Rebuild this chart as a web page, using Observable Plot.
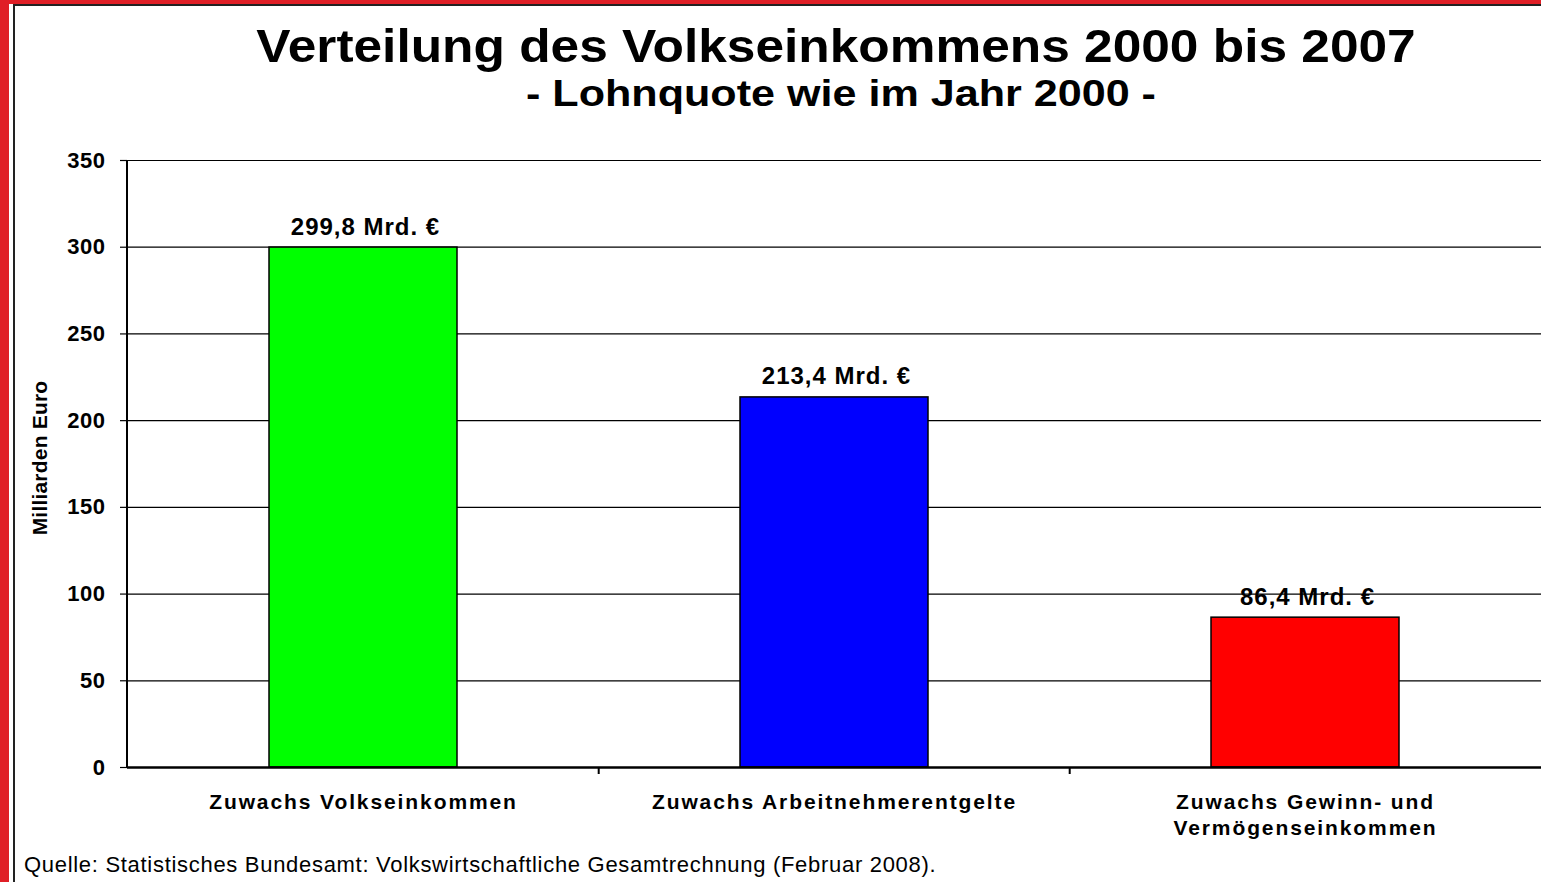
<!DOCTYPE html>
<html>
<head>
<meta charset="utf-8">
<script src="https://cdn.jsdelivr.net/npm/d3@7"></script>
<script src="https://cdn.jsdelivr.net/npm/@observablehq/plot@0.6"></script>
<style>
  html, body { margin: 0; padding: 0; background: #fff; }
  #page { position: relative; width: 1541px; height: 882px; overflow: hidden; background: #fff;
          font-family: "Liberation Sans", Arial, sans-serif; color: #000; }
  .abs { position: absolute; white-space: nowrap; }
  #redLeft { left: 0; top: 0; width: 9px; height: 882px; background: #e01f26; }
  #redTop { left: 0; top: 0; width: 1541px; height: 4px; background: #e01f26; }
  #frame { left: 13px; top: 4px; width: 1600px; height: 1000px; border-left: 2px solid #222; border-top: 2px solid #222; }
  #title { left: 836px; top: 22px; transform: translateX(-50%) scaleX(1.094); font-size: 47px; line-height: 47px; font-weight: bold; }
  #subtitle { left: 841px; top: 75px; transform: translateX(-50%) scaleX(1.165); font-size: 37px; line-height: 37px; font-weight: bold; }
  #ytitle { left: 39px; top: 458px; transform: translate(-50%, -50%) rotate(-90deg); font-size: 21px; line-height: 21px; font-weight: bold; letter-spacing: 0.2px; }
  #caption { left: 24px; top: 854px; font-size: 22px; line-height: 22px; letter-spacing: 0.7px; }
  #chart { left: 0; top: 140px; }
</style>
</head>
<body>
<div id="page">
  <div class="abs" id="redLeft"></div>
  <div class="abs" id="redTop"></div>
  <div class="abs" id="frame"></div>
  <div class="abs" id="title">Verteilung des Volkseinkommens 2000 bis 2007</div>
  <div class="abs" id="subtitle">- Lohnquote wie im Jahr 2000 -</div>
  <div class="abs" id="ytitle">Milliarden Euro</div>
  <div class="abs" id="chart"></div>
  <div class="abs" id="caption">Quelle: Statistisches Bundesamt: Volkswirtschaftliche Gesamtrechnung (Februar 2008).</div>
</div>
<script>
// ---- data ----
const categories = ["Zuwachs Volkseinkommen", "Zuwachs Arbeitnehmerentgelte", "Zuwachs Gewinn- und Vermögenseinkommen"];
const categoryLabels = ["Zuwachs Volkseinkommen", "Zuwachs Arbeitnehmerentgelte", "Zuwachs Gewinn- und\nVermögenseinkommen"];
const values = [299.8, 213.4, 86.4];
const barColors = ["#00ff00", "#0000ff", "#ff0000"];
const yTicks = [0, 50, 100, 150, 200, 250, 300, 350];
const valueUnit = " Mrd. €";

const data = categories.map((c, i) => ({cat: c, value: values[i], color: barColors[i]}));
const de = d3.formatLocale({decimal: ",", thousands: ".", grouping: [3], currency: ["", "€"]});
const fmt = de.format(".1f");
const labelOf = new Map(categories.map((c, i) => [c, categoryLabels[i]]));

// custom mark: left axis line and category boundary ticks
function frameMarks(index, scales, values, dimensions) {
  const {x, y} = scales;
  const ns = "http://www.w3.org/2000/svg";
  const g = document.createElementNS(ns, "g");
  const line = (x1, y1, x2, y2, w) => {
    const l = document.createElementNS(ns, "line");
    l.setAttribute("x1", x1); l.setAttribute("y1", y1);
    l.setAttribute("x2", x2); l.setAttribute("y2", y2);
    l.setAttribute("stroke", "#000"); l.setAttribute("stroke-width", w);
    g.appendChild(l);
  };
  const y0 = y(0), yTop = y(d3.max(yTicks));
  line(dimensions.marginLeft, yTop, dimensions.marginLeft, y0 + 1, 2);
  const step = x.step(), pi = x.paddingInner();
  categories.slice(1).forEach(c => {
    const bx = x(c) - step * pi / 2;
    line(bx, y0, bx, y0 + 7, 2);
  });
  return g;
}

const plot = Plot.plot({
  width: 1541,
  height: 720,
  marginTop: 20,
  marginBottom: 93,
  marginLeft: 127,
  marginRight: 0,
  style: {fontFamily: "'Liberation Sans', Arial, sans-serif", fontWeight: "bold", color: "#000", background: "transparent"},
  x: {domain: categories, paddingInner: 0.6, paddingOuter: 0.3},
  y: {domain: [0, 350]},
  marks: [
    Plot.ruleY(yTicks, {stroke: "#000", strokeWidth: 1.2, strokeOpacity: 1}),
    Plot.barY(data, {x: "cat", y: "value", fill: "color", stroke: "#000", strokeWidth: 1.5}),
    Plot.ruleY([0], {stroke: "#000", strokeWidth: 2.5}),
    frameMarks,
    Plot.axisY({ticks: yTicks, tickSize: 7, tickPadding: 15, fontSize: 22, label: null, stroke: "#000", strokeWidth: 1.2, strokeOpacity: 1}),
    Plot.axisX({tickSize: 0, tickPadding: 23, fontSize: 21, lineHeight: 1.24, label: null, tickFormat: d => labelOf.get(d)}),
    Plot.text(data, {x: "cat", y: "value", text: d => fmt(d.value) + valueUnit, dx: 2, dy: -13, lineAnchor: "bottom", fontSize: 24, fontWeight: "bold", fill: "#000"})
  ]
});
d3.select(plot).selectAll('g[aria-label="x-axis tick label"] text').style("letter-spacing", "1.9px");
d3.select(plot).selectAll('g[aria-label="y-axis tick label"] text').style("letter-spacing", "0.5px");
d3.select(plot).selectAll('g[aria-label="text"] text').style("letter-spacing", "1px");
document.getElementById("chart").appendChild(plot);
</script>
</body>
</html>
